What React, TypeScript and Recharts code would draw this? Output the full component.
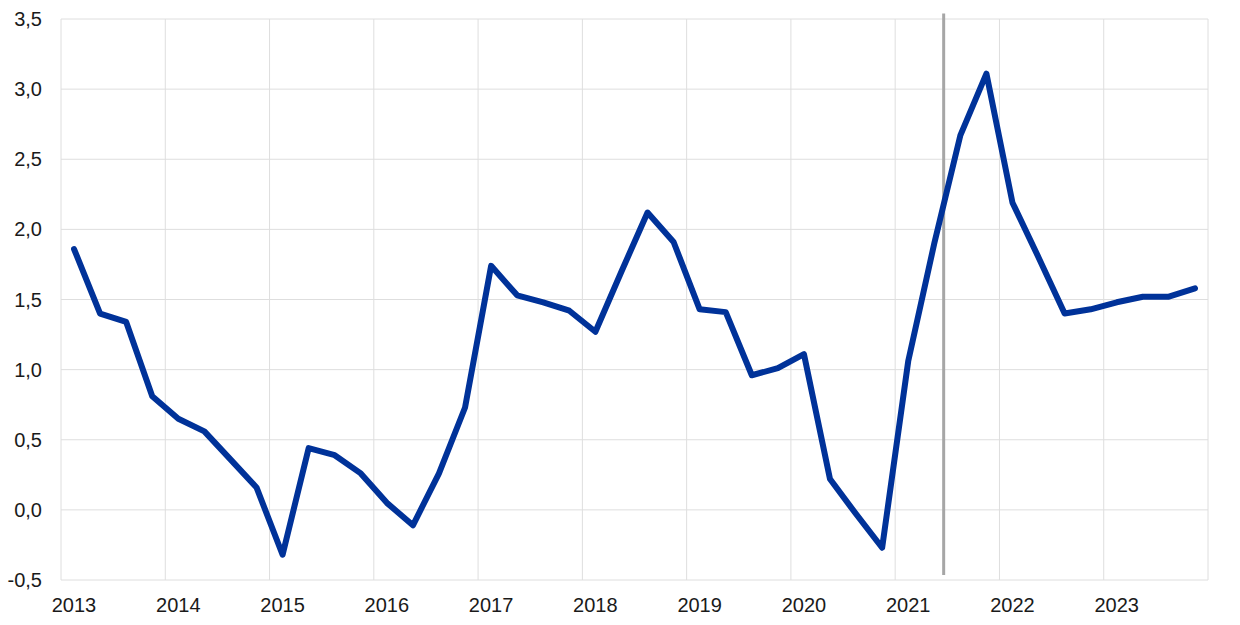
import React from "react";
import { LineChart, Line, XAxis, YAxis, CartesianGrid, ReferenceLine } from "recharts";

// quarterly values, 2013 Q1 .. 2023 Q4
const quarters: string[] = [];
for (let y = 2013; y <= 2023; y++) for (let q = 1; q <= 4; q++) quarters.push(`${y}Q${q}`);

const values = [
  1.86, 1.4, 1.34, 0.81,
  0.65, 0.56, 0.36, 0.16,
  -0.32, 0.44, 0.39, 0.26,
  0.05, -0.11, 0.26, 0.73,
  1.74, 1.53, 1.48, 1.42,
  1.27, 1.7, 2.12, 1.91,
  1.43, 1.41, 0.96, 1.01,
  1.11, 0.22, -0.03, -0.27,
  1.06, 1.9, 2.67, 3.11,
  2.19, 1.8, 1.4, 1.43,
  1.48, 1.52, 1.52, 1.58,
];

const yearTicks = [2013, 2014, 2015, 2016, 2017, 2018, 2019, 2020, 2021, 2022, 2023];
const gridYears = [...yearTicks, 2024];
const yTicks = [-0.5, 0, 0.5, 1, 1.5, 2, 2.5, 3, 3.5];
const markerX = 2021.465;

const data = quarters.map((q, i) => ({
  t: Number(q.slice(0, 4)) + (Number(q.slice(5)) - 0.5) / 4,
  value: values[i],
}));

const fmtY = (v: number) => v.toFixed(1).replace(".", ",");
const tickStyle = { fill: "#1a1a1a", fontSize: 20, fontFamily: "Liberation Sans, Arial, sans-serif" };

export default function App() {
  return (
    <div style={{ position: "absolute", left: 0, top: 0, width: 1240, height: 625, background: "#fff" }}>
      <LineChart width={1240} height={625} data={data} margin={{ top: 19, right: 32, bottom: 0, left: 0 }}>
        <CartesianGrid stroke="#dedede" strokeWidth={1} verticalValues={gridYears} horizontalValues={yTicks} />
        <XAxis
          dataKey="t"
          type="number"
          domain={[2013, 2024]}
          ticks={yearTicks}
          tickFormatter={(v: number) => String(v)}
          axisLine={false}
          tickLine={false}
          height={45}
          tick={{ ...tickStyle, dx: 13 }}
          tickMargin={12}
          interval={0}
        />
        <YAxis
          type="number"
          domain={[-0.5, 3.5]}
          ticks={yTicks}
          tickFormatter={fmtY}
          axisLine={false}
          tickLine={false}
          width={61}
          tick={tickStyle}
          tickMargin={13}
          interval={0}
        />
        <ReferenceLine
          segment={[{ x: markerX, y: 3.54 }, { x: markerX, y: -0.465 }]}
          stroke="#a6a6a6"
          strokeWidth={3}
          ifOverflow="visible"
        />
        <Line
          type="linear"
          dataKey="value"
          stroke="#003299"
          strokeWidth={6}
          strokeLinejoin="round"
          strokeLinecap="round"
          dot={false}
          activeDot={false}
          isAnimationActive={false}
        />
      </LineChart>
    </div>
  );
}
